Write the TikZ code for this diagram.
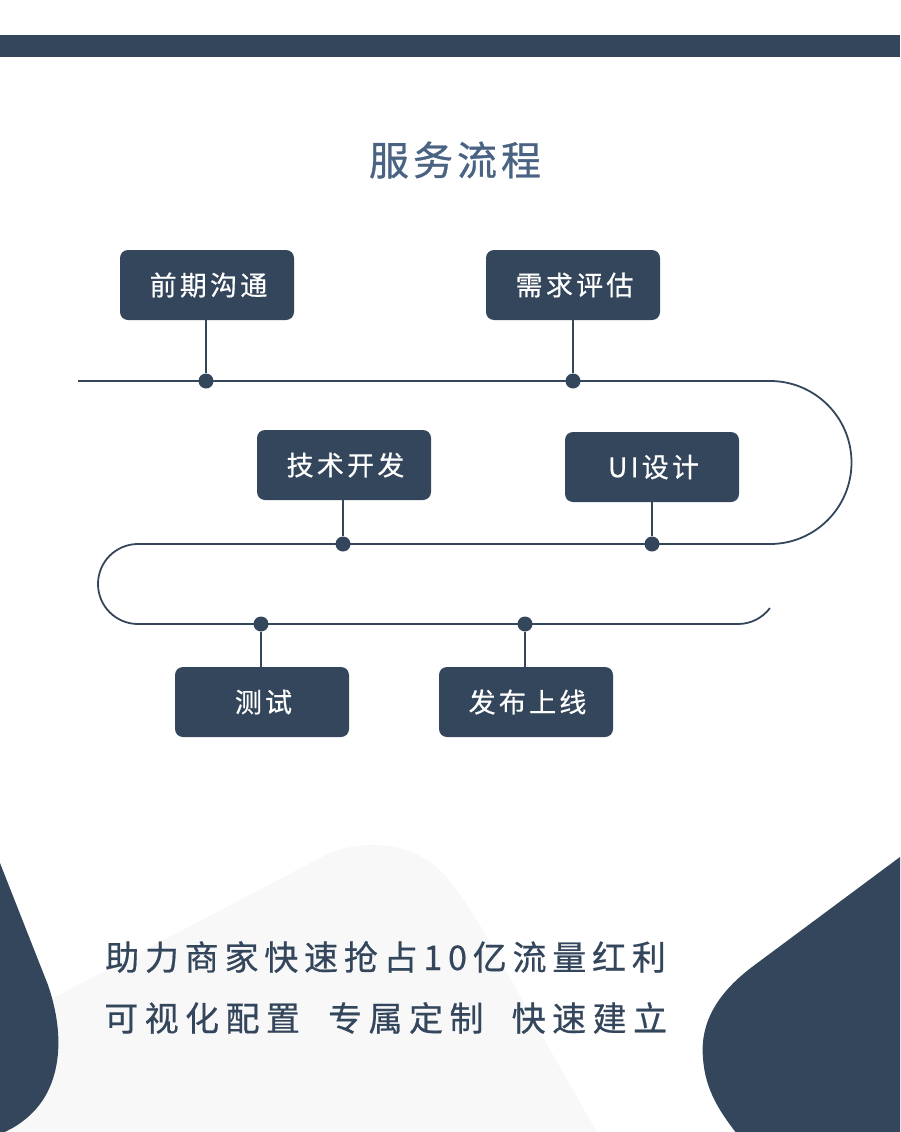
\documentclass[tikz,border=0pt]{standalone}
\usepackage{fontspec}
\newfontfamily\titlefont[LetterSpace=10,FakeBold=0.8]{Noto Sans CJK SC}
\newfontfamily\boxfontfam[LetterSpace=12,FakeBold=0.5]{Noto Sans CJK SC}
\newfontfamily\slogfont[LetterSpace=19,FakeBold=0.6]{Noto Sans CJK SC}
\newfontfamily\slogfontb[LetterSpace=17,FakeBold=0.6]{Noto Sans CJK SC}
\definecolor{navy}{HTML}{34465B}
\definecolor{titleblue}{HTML}{4A6382}
\definecolor{blobgray}{HTML}{F8F8F9}
\tikzset{
  stepbox/.style={fill=navy, rounded corners=8pt, minimum width=174pt, minimum height=70pt,
    text=white, inner sep=0pt, font=\boxfontfam\fontsize{27pt}{30pt}\selectfont},
  flowline/.style={draw=navy, line width=1.8pt},
  dotmark/.style={circle, fill=navy, minimum size=15pt, inner sep=0pt},
}
\begin{document}
\begin{tikzpicture}[x=1pt,y=-1pt]
\useasboundingbox (0,0) rectangle (900,1132);
\begin{scope}
\clip (0,0) rectangle (900,1132);
% top bar
\fill[navy] (0,35) rectangle (900,57);
% background blobs
\fill[blobgray] (0,1026) -- (318,859) .. controls (355,838) and (410,838) .. (445,875)
  .. controls (480,915) and (520,1000) .. (597,1132) -- (0,1132) -- cycle;
\fill[navy] (0,863) -- (48,985) .. controls (60,1020) and (64,1060) .. (47,1093)
  .. controls (37,1112) and (20,1126) .. (0,1134) -- cycle;
\fill[navy] (900,857) -- (752,967) .. controls (715,995) and (700,1025) .. (703,1058)
  .. controls (705,1090) and (720,1112) .. (737,1134) -- (900,1134) -- cycle;
\end{scope}
% title
\node[text=titleblue, font=\titlefont\fontsize{40pt}{44pt}\selectfont] (title) at (453,160) {服务流程\kern-4pt};
% flow path
\draw[flowline] (78,381) -- (770,381) arc[start angle=-90, end angle=90, radius=81.5]
  -- (138,544) arc[start angle=-90, end angle=-270, radius=40]
  -- (738,624) arc[start angle=90, end angle=37, radius=40];
% dots
\node[dotmark] (d1) at (206,381) {};
\node[dotmark] (d2) at (573,381) {};
\node[dotmark] (d3) at (343,544) {};
\node[dotmark] (d4) at (652,544) {};
\node[dotmark] (d5) at (261,624) {};
\node[dotmark] (d6) at (525,624) {};
% boxes
\node[stepbox] (b1) at (207,285) {前期沟通\kern-3pt};
\node[stepbox] (b2) at (573,285) {需求评估\kern-3pt};
\node[stepbox] (b3) at (344,465) {技术开发\kern-3pt};
\node[stepbox] (b4) at (652,467) {UI设计\kern-3pt};
\node[stepbox] (b5) at (262,702) {测试\kern-3pt};
\node[stepbox] (b6) at (526,702) {发布上线\kern-3pt};
% stems
\draw[flowline] (d1) -- (d1 |- b1.south);
\draw[flowline] (d2) -- (d2 |- b2.south);
\draw[flowline] (d3) -- (d3 |- b3.south);
\draw[flowline] (d4) -- (d4 |- b4.south);
\draw[flowline] (d5) -- (d5 |- b5.north);
\draw[flowline] (d6) -- (d6 |- b6.north);
% slogan
\node[anchor=west, text=navy, inner sep=0pt, font=\slogfontb\fontsize{34pt}{38pt}\selectfont] (s1) at (105,957) {助力商家快速抢占10亿流量红利};
\node[anchor=west, text=navy, inner sep=0pt, font=\slogfont\fontsize{34pt}{38pt}\selectfont] (s2) at (104,1018) {可视化配置\ \ 专属定制\ \ 快速建立};
\end{tikzpicture}
\end{document}
